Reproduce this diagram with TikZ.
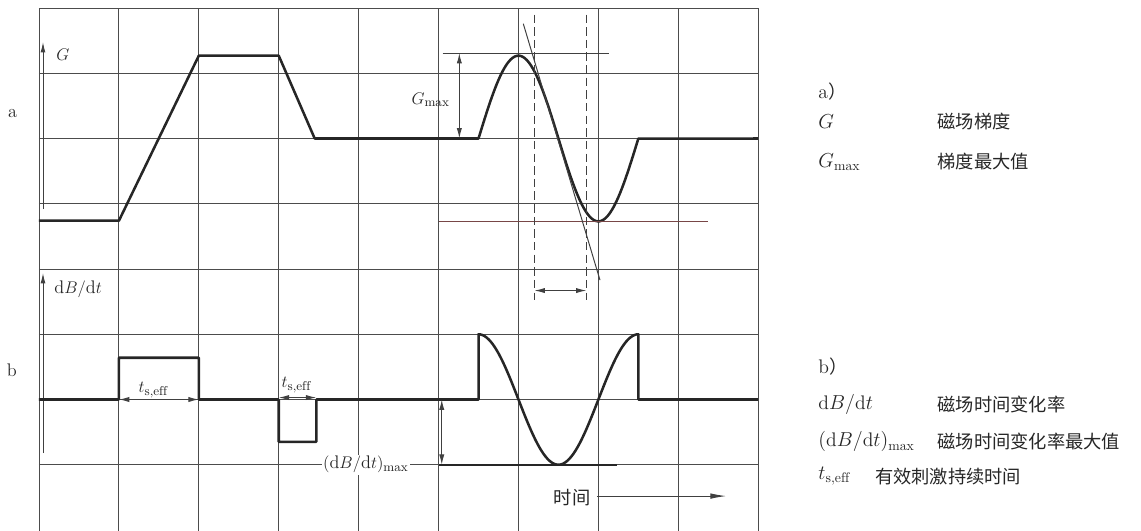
\documentclass[tikz,border=0pt]{standalone}
\usepackage{fontspec}
\newfontfamily\cjk{Noto Sans CJK SC}
\usetikzlibrary{arrows.meta}

\tikzset{
  gridline/.style={color=black!70,line width=0.6pt},
  curve/.style={color=black!85,line width=1.8pt,line join=round},
  thinline/.style={color=black!75,line width=0.7pt},
  dimarrow/.style={thinline,{Latex[length=2.6mm,width=1.3mm]}-{Latex[length=2.6mm,width=1.3mm]}},
  axisarrow/.style={thinline,-{Latex[length=2.6mm,width=1.2mm]}},
  lbl/.style={text=black!85,font=\fontsize{13}{15}\selectfont,inner sep=1pt},
  leg/.style={text=black!85,font=\fontsize{14}{16}\selectfont,anchor=west,inner sep=0pt}
}

\begin{document}
\begin{tikzpicture}[x=2cm,y=1.633cm]

   \useasboundingbox (-0.488,-0.015) rectangle (13.79,8.123);

   % grid
   \foreach \i in {0,...,9}
     \draw[gridline] (\i,-0.02) -- (\i,8);
   \foreach \j in {1,...,8}
     \draw[gridline] (0,\j) -- (9,\j);

   % a) gradient
   \draw[axisarrow] (0.05,4.92) -- (0.05,7.48);
   \node[lbl] (axG) at (0.3,7.28) {$G$};
   \node[lbl] (lblA) at (-0.33,6.39) {a};

   \draw[curve] (0,4.74) -- (1,4.74) -- (2,7.27) -- (3,7.27) -- (3.45,6) -- (5.5,6)
        -- plot[domain=5.5:7.5,samples=80] (\x,{6+1.27*sin(180*(\x-5.5))}) -- (9,6);

   \draw[thinline] (5.05,7.31) -- (7.13,7.31);
   \draw[thinline,color={rgb,255:red,120;green,70;blue,70}] (5.0,4.73) -- (8.37,4.73);
   \draw[thinline] (6.06,7.76) -- (7.02,3.83);
   \draw[thinline,dashed,dash pattern=on 6pt off 3pt] (6.2,7.9) -- (6.2,3.52);
   \draw[thinline,dashed,dash pattern=on 6pt off 3pt] (6.85,7.9) -- (6.85,3.52);
   \draw[dimarrow] (6.2,3.67) -- (6.85,3.67);

   \draw[dimarrow] (5.26,7.31) -- (5.26,6);
   \node[lbl] (gmax) at (4.9,6.59) {$G_{\mathrm{max}}$};

   % b) dB/dt
   \draw[axisarrow] (0.05,1.18) -- (0.05,3.94);
   \node[lbl] (axdB) at (0.49,3.69) {$\mathrm{d}B/\mathrm{d}t$};
   \node[lbl] (lblB) at (-0.34,2.45) {b};

   \draw[curve] (0,2) -- (1,2) -- (1,2.64) -- (2,2.64) -- (2,2) -- (3,2) -- (3,1.35)
        -- (3.47,1.35) -- (3.47,2) -- (5.5,2) -- (5.5,3)
        -- plot[domain=5.5:7.5,samples=80] (\x,{2+cos(180*(\x-5.5))}) -- (7.5,2) -- (9,2);

   \draw[dimarrow] (1,2) -- (2,2);
   \node[lbl] (ts1) at (1.43,2.15) {$t_{\mathrm{s,eff}}$};
   \draw[dimarrow] (3,2.03) -- (3.47,2.03);
   \node[lbl] (ts2) at (3.22,2.22) {$t_{\mathrm{s,eff}}$};

   \draw[color=black!85,line width=1.2pt] (5.0,1) -- (7.23,1);
   \draw[dimarrow] (5.04,2) -- (5.04,1);
   \node[lbl,fill=white] (dbmax) at (4.09,1) {$(\mathrm{d}B/\mathrm{d}t)_{\mathrm{max}}$};

   \node[lbl,fill=white,font=\cjk\fontsize{13}{15}\selectfont] (time) at (6.67,0.5) {时间};
   \coordinate (tend) at (8.6,0.52);
   \draw[thinline,-{Latex[length=4mm,width=1.4mm]}] (6.98,0.52) -- (tend);

   % legend
   \node[leg] (la) at (9.75,6.72) {a{\cjk\fontsize{13}{15}\selectfont ）}};
   \node[leg] (lg) at (9.75,6.26) {$G$};
   \node[leg] (lgt) at (11.24,6.26) {\cjk\fontsize{13}{15}\selectfont 磁场梯度};
   \node[leg] (lgm) at (9.75,5.64) {$G_{\mathrm{max}}$};
   \node[leg] (lgmt) at (11.24,5.64) {\cjk\fontsize{13}{15}\selectfont 梯度最大值};

   \node[leg] (lb) at (9.75,2.5) {b{\cjk\fontsize{13}{15}\selectfont ）}};
   \node[leg] (ld) at (9.75,1.92) {$\mathrm{d}B/\mathrm{d}t$};
   \node[leg] (ldt) at (11.24,1.92) {\cjk\fontsize{13}{15}\selectfont 磁场时间变化率};
   \node[leg] (ldm) at (9.75,1.35) {$(\mathrm{d}B/\mathrm{d}t)_{\mathrm{max}}$};
   \node[leg] (ldmt) at (11.24,1.35) {\cjk\fontsize{13}{15}\selectfont 磁场时间变化率最大值};
   \node[leg] (lts) at (9.75,0.82) {$t_{\mathrm{s,eff}}$};
   \node[leg] (ltst) at (10.46,0.82) {\cjk\fontsize{13}{15}\selectfont 有效刺激持续时间};

\end{tikzpicture}
\end{document}
